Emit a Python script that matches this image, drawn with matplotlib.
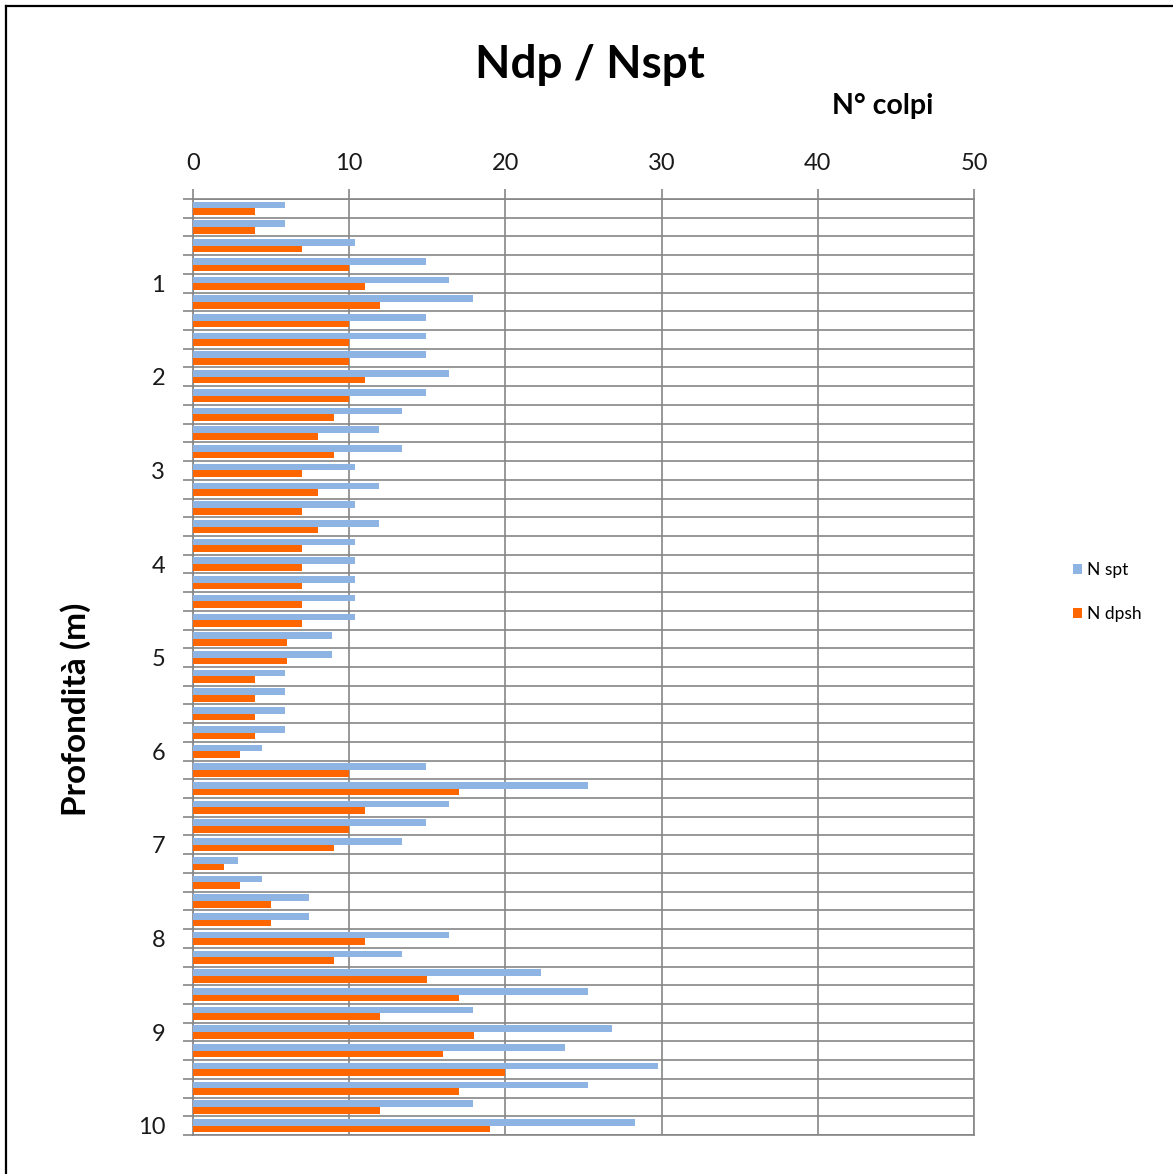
import matplotlib
matplotlib.use("Agg")
import matplotlib.pyplot as plt
from matplotlib.lines import Line2D
from matplotlib.ticker import FixedLocator, NullFormatter
import numpy as np

# ---- data ----
depth = [0.2, 0.4, 0.6, 0.8, 1.0, 1.2, 1.4, 1.6, 1.8, 2.0,
         2.2, 2.4, 2.6, 2.8, 3.0, 3.2, 3.4, 3.6, 3.8, 4.0,
         4.2, 4.4, 4.6, 4.8, 5.0, 5.2, 5.4, 5.6, 5.8, 6.0,
         6.2, 6.4, 6.6, 6.8, 7.0, 7.2, 7.4, 7.6, 7.8, 8.0,
         8.2, 8.4, 8.6, 8.8, 9.0, 9.2, 9.4, 9.6, 9.8, 10.0]
n_spt = [5.9, 5.9, 10.4, 14.9, 16.4, 17.9, 14.9, 14.9, 14.9, 16.4,
         14.9, 13.4, 11.9, 13.4, 10.4, 11.9, 10.4, 11.9, 10.4, 10.4,
         10.4, 10.4, 10.4, 8.9, 8.9, 5.9, 5.9, 5.9, 5.9, 4.4,
         14.9, 25.3, 16.4, 14.9, 13.4, 2.9, 4.4, 7.4, 7.4, 16.4,
         13.4, 22.3, 25.3, 17.9, 26.8, 23.8, 29.8, 25.3, 17.9, 28.3]
n_dpsh = [4, 4, 7, 10, 11, 12, 10, 10, 10, 11,
          10, 9, 8, 9, 7, 8, 7, 8, 7, 7,
          7, 7, 7, 6, 6, 4, 4, 4, 4, 3,
          10, 17, 11, 10, 9, 2, 3, 5, 5, 11,
          9, 15, 17, 12, 18, 16, 20, 17, 12, 19]
x_ticks = [0, 10, 20, 30, 40, 50]
series_names = ["N spt", "N dpsh"]

# ---- style ----
FONT = "Lato"
C_SPT = "#8DB4E2"
C_DP = "#FF6600"
GRID = "#868686"
TXT = "#1a1a1a"

W, H = 1173, 1174
fig = plt.figure(figsize=(W / 100, H / 100), dpi=100)
fig.patch.set_facecolor("white")

def fx(px):
    return px / W

def fy(py):
    return 1 - py / H

ax = fig.add_axes([fx(193), fy(1135), fx(974) - fx(193), (1135 - 199) / H])

n = len(depth)
pos = np.arange(n)
bh = 0.355
ax.barh(pos - bh / 2, n_spt, height=bh, color=C_SPT, label=series_names[0], zorder=3)
ax.barh(pos + bh / 2, n_dpsh, height=bh, color=C_DP, label=series_names[1], zorder=3)

ax.set_xlim(0, 50)
ax.set_ylim(n - 0.5, -0.5)

# x axis on top
ax.xaxis.tick_top()
ax.set_xticks(x_ticks)
ax.set_xticklabels([str(v) for v in x_ticks], fontsize=17, family=FONT, color=TXT)
ax.tick_params(axis="x", which="major", direction="out", length=7.2, width=1.2,
               color=GRID, pad=11)
ax.xaxis.grid(True, color=GRID, linewidth=1.2, zorder=1)

# y axis: labels every 5th category, boundaries as minor ticks + grid
labels = []
for i, d in enumerate(depth):
    labels.append(f"{d:g}" if (i + 1) % 5 == 0 else "")
ax.set_yticks(pos)
ax.set_yticklabels(labels, fontsize=17, family=FONT, color=TXT)
ax.tick_params(axis="y", which="major", length=0, pad=20)
ax.yaxis.set_minor_locator(FixedLocator(np.arange(-0.5, n, 1.0)))
ax.yaxis.set_minor_formatter(NullFormatter())
ax.tick_params(axis="y", which="minor", direction="out", length=7.2, width=1.2, color=GRID)
ax.yaxis.grid(True, which="minor", color=GRID, linewidth=1.2, zorder=1)
ax.yaxis.grid(False, which="major")
ax.set_axisbelow(True)

for side in ["top", "bottom", "left", "right"]:
    ax.spines[side].set_color(GRID)
    ax.spines[side].set_linewidth(1.2)

# titles
fig.text(fx(590), fy(78), "Ndp / Nspt", ha="center", va="baseline",
         fontsize=33, fontweight="bold", family=FONT, color="black")
fig.text(fx(883), fy(114), "N° colpi", ha="center", va="baseline",
         fontsize=20.5, fontweight="bold", family=FONT, color="black")
fig.text(fx(76), fy(709), "Profondità (m)", ha="center", va="center", rotation=90,
         fontsize=24, fontweight="bold", family=FONT, color="black")

# legend
fig.legend(loc="center left", bbox_to_anchor=(fx(1057), fy(592)), frameon=False,
           handlelength=0.55, handleheight=0.55, handletextpad=0.3,
           labelspacing=1.6, prop={"family": FONT, "size": 12.5})

# frame (top and left edges)
fig.add_artist(Line2D([fx(6), fx(1173)], [fy(6), fy(6)], color="black", lw=1.6,
                      transform=fig.transFigure))
fig.add_artist(Line2D([fx(6), fx(6)], [fy(6), fy(1174)], color="black", lw=1.6,
                      transform=fig.transFigure))

fig.savefig("out.png", dpi=100)
